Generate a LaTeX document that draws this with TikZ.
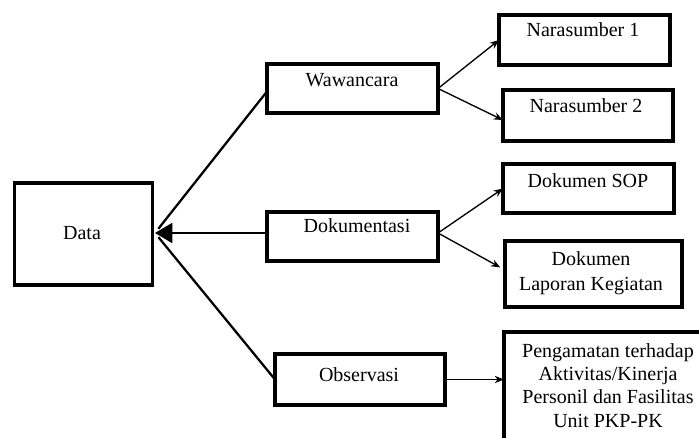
\documentclass[tikz,border=0pt]{standalone}
\usepackage{fontspec}
\setmainfont{Liberation Serif}
\usetikzlibrary{arrows.meta,calc}
\begin{document}
\begin{tikzpicture}[x=0.75pt,y=-0.75pt,
  box/.style={draw,line width=2.6pt,inner sep=0pt,outer sep=0pt},
  lbl/.style={anchor=base,inner sep=0pt,font=\fontsize{15}{17}\selectfont},
  thin arrow/.style={line width=1pt,-{Stealth[length=7pt,width=5.5pt]}},
  main line/.style={line width=1.7pt}]
\clip (0,0) rectangle (699,438);
\fill[white] (0,0) rectangle (699,438);
% boxes
\node[box,minimum width=138*0.75pt,minimum height=102*0.75pt] (data) at (83.5,234) {};
\node[box,minimum width=171*0.75pt,minimum height=49*0.75pt] (waw) at (352.5,88.5) {};
\node[box,minimum width=171*0.75pt,minimum height=49*0.75pt] (dok) at (352.5,236.5) {};
\node[box,minimum width=170*0.75pt,minimum height=51*0.75pt] (obs) at (360,379.5) {};
\node[box,minimum width=171*0.75pt,minimum height=50*0.75pt] (n1) at (584.5,40) {};
\node[box,minimum width=170*0.75pt,minimum height=51*0.75pt] (n2) at (588,115.5) {};
\node[box,minimum width=171*0.75pt,minimum height=49*0.75pt] (sop) at (588.5,188.5) {};
\node[box,minimum width=177*0.75pt,minimum height=66*0.75pt] (lap) at (593.5,274) {};
\node[box,minimum width=210*0.75pt,minimum height=120*0.75pt] (peng) at (609,392) {};
% labels
\node[lbl] (tdata) at (82,240) {Data};
\node[lbl] (twaw) at (352,87) {Wawancara};
\node[lbl] (tdok) at (357,233) {Dokumentasi};
\node[lbl] (tobs) at (359,381) {Observasi};
\node[lbl] (tn1) at (583,37) {Narasumber 1};
\node[lbl] (tn2) at (586,113) {Narasumber 2};
\node[lbl] (tsop) at (588,188) {Dokumen SOP};
\node[lbl] (tlap1) at (591,266) {Dokumen};
\node[lbl] (tlap2) at (591,291) {Laporan Kegiatan};
\node[lbl] (tp1) at (608,357) {Pengamatan terhadap};
\node[lbl] (tp2) at (608,380) {Aktivitas/Kinerja};
\node[lbl] (tp3) at (608,403) {Personil dan Fasilitas};
\node[lbl] (tp4) at (608,427) {Unit PKP-PK};
% main connectors
\coordinate (tip) at (155,233);
\coordinate (wawin) at ($(waw.north west)!0.56!(waw.south west)$);
\draw[main line,shorten >=4pt] (wawin) -- (tip);
\draw[main line,shorten >=4pt] (obs.west) -- (tip);
\draw[main line,-{Triangle[length=13pt,width=15pt]}] (dok.west |- tip) -- (tip);
% small arrows
\coordinate (n2in) at ($(n2.north west)!0.59!(n2.south west)$);
\draw[thin arrow] (waw.east) -- (n1.west);
\draw[thin arrow] (waw.east) -- (n2in);
\draw[thin arrow] (dok.east |- tip) -- (sop.west);
\draw[thin arrow,shorten >=4pt] (dok.east |- tip) -- ($(lap.north west)!0.44!(lap.south west)$);
\draw[thin arrow] (obs.east) -- (obs.east -| peng.west);
\end{tikzpicture}
\end{document}
